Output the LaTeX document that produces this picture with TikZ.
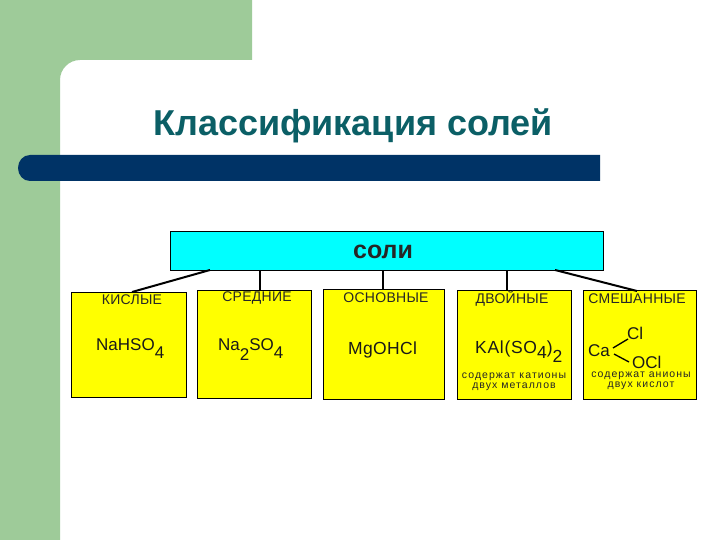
\documentclass[tikz,border=0pt]{standalone}
\usepackage{fontspec}
\setmainfont{Liberation Sans}
\definecolor{sage}{HTML}{9ECB99}
\definecolor{navybar}{HTML}{003366}
\definecolor{titlecol}{HTML}{0B5F66}
\definecolor{cyanbox}{HTML}{00FFFF}
\definecolor{yelbox}{HTML}{FFFF00}
\tikzset{
  salt/.style={draw=black,line width=1pt,fill=yelbox,anchor=north west,inner sep=0pt},
  link/.style={draw=black,line width=2pt},
  head/.style={font=\fontsize{14}{14}\selectfont\addfontfeature{LetterSpace=2},inner sep=0pt,text=black!85},
  formula/.style={font=\fontsize{17}{17}\selectfont,inner sep=0pt,text=black!90},
  note/.style={font=\fontsize{10.5}{10}\selectfont\addfontfeature{LetterSpace=10},inner sep=0pt,align=center,text=black!85},
  thinl/.style={draw=black,line width=1.3pt}
}
\newcommand{\lowr}[2]{\raisebox{-#1pt}{#2}}
\begin{document}
\begin{tikzpicture}[x=1pt,y=-1pt]
\useasboundingbox (0,0) rectangle (720,540);
\fill[white] (0,0) rectangle (720,540);
\fill[sage] (0,0) -- (252,0) -- (252,60) -- (80,60) .. controls (69,60) and (60,69) .. (60,80) -- (60,540) -- (0,540) -- cycle;
\fill[navybar] (30,155) -- (600,155) -- (600,181) -- (30,181) .. controls (23,181) and (18,175) .. (18,168) .. controls (18,161) and (23,155) .. (30,155) -- cycle;
\node[font=\fontsize{36}{36}\selectfont\bfseries,text=titlecol,inner sep=0pt,anchor=base west] (title) at (153,136) {Классификация солей};

\node[draw=black,line width=1pt,fill=cyanbox,anchor=north west,minimum width=433pt,minimum height=39pt,inner sep=0pt] (root) at (170,231) {};
\node[font=\fontsize{25}{25}\selectfont\bfseries,inner sep=0pt,text=black!85] (rootl) at (383,252) {соли};

\node[salt,minimum width=115pt,minimum height=105pt] (b1) at (71,292) {};
\node[salt,minimum width=114pt,minimum height=108pt] (b2) at (197,290) {};
\node[salt,minimum width=121pt,minimum height=110pt] (b3) at (323,289) {};
\node[salt,minimum width=114pt,minimum height=109pt] (b4) at (457,290) {};
\node[salt,minimum width=113pt,minimum height=109pt] (b5) at (583,290) {};

\coordinate (r1) at (210,270);
\coordinate (r2) at (260,270);
\coordinate (r3) at (383,270);
\coordinate (r4) at (507,270);
\coordinate (r5) at (555,270);
\coordinate (t1) at (132,292);
\coordinate (t2) at (260,290);
\coordinate (t3) at (383,289);
\coordinate (t4) at (507,290);
\coordinate (t5) at (637,291);
\draw[link] (r1) -- (t1);
\draw[link] (r2) -- (t2);
\draw[link] (r3) -- (t3);
\draw[link] (r4) -- (t4);
\draw[link] (r5) -- (t5);

\node[head] (h1) at (132,300) {КИСЛЫЕ};
\node[head] (h2) at (257,298) {СРЕДНИЕ};
\node[head] (h3) at (386,298) {ОСНОВНЫЕ};
\node[head] (h4) at (512,299) {ДВОЙНЫЕ};
\node[head] (h5) at (637,299) {СМЕШАННЫЕ};

\node[formula,anchor=base west] (f1) at (96,350) {NaHSO\lowr{8}{4}};
\node[formula,anchor=base west] (f2) at (218,350) {Na\lowr{10}{2}SO\lowr{8}{4}};
\node[formula,anchor=base west,font=\fontsize{17.5}{17.5}\selectfont\addfontfeature{LetterSpace=2}] (f3) at (348,354) {MgOHCl};
\node[formula,anchor=base west,font=\fontsize{17.5}{17.5}\selectfont\addfontfeature{LetterSpace=4}] (f4) at (475,353) {KAl(SO\lowr{5}{4})\lowr{9}{2}};

\node[note] (n4) at (514,382) {содержат катионы\\двух металлов};
\node[note] (n5) at (641,381) {содержат анионы\\двух кислот};

\node[formula,anchor=base west] (ca) at (588,356) {Ca};
\node[formula,anchor=base west] (cl) at (627,339) {Cl};
\node[formula,anchor=base west] (ocl) at (632,368) {OCl};
\coordinate (ca1) at (613,348);
\coordinate (ca2) at (614,354);
\coordinate (cl1) at (628,339);
\coordinate (ocl1) at (629,362);
\draw[thinl] (ca1) -- (cl1);
\draw[thinl] (ca2) -- (ocl1);
\end{tikzpicture}
\end{document}
